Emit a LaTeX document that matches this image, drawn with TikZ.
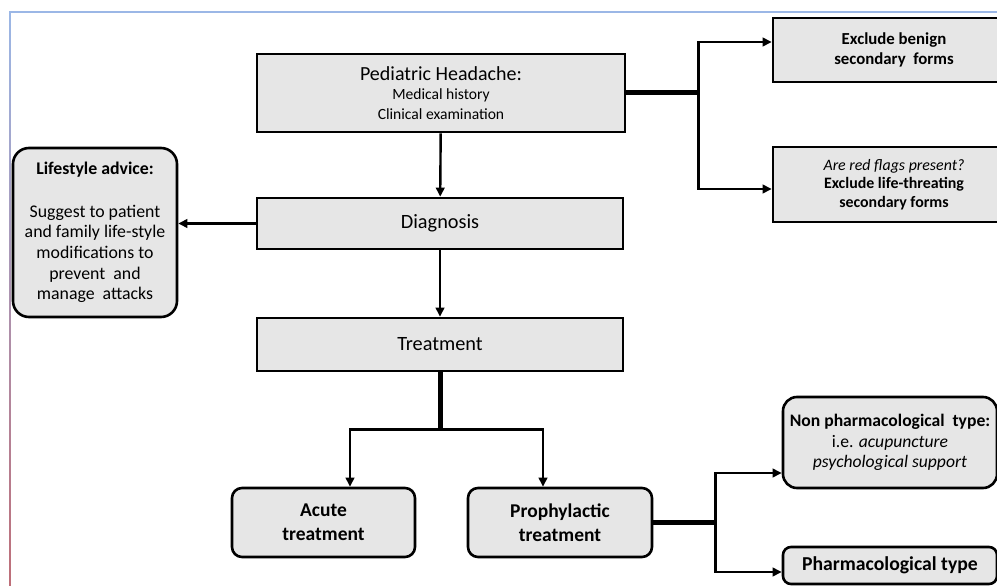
\documentclass[tikz,border=0pt]{standalone}
\usepackage{fontspec}
\setmainfont{Carlito}
\usetikzlibrary{arrows.meta,positioning}
\definecolor{boxgray}{RGB}{230,230,230}
\definecolor{frameblue}{RGB}{155,183,230}
\definecolor{framered}{RGB}{190,110,120}

\begin{document}
\begin{tikzpicture}[x=1pt, y=-1pt,
	>={Triangle[length=9pt,width=8.5pt]},
	flowbox/.style={draw=black, line width=2.6pt, fill=boxgray, align=center, inner sep=2pt},
	roundbox/.style={flowbox, rounded corners=10pt},
	link/.style={line width=2.4pt},
	stem/.style={line width=5pt}]
	\useasboundingbox (0,0) rectangle (997,586);

	% frame of the screenshot
	\draw[frameblue, line width=1.5pt] (10,12) -- (997,12);
	\shade[top color=frameblue, bottom color=framered] (9.2,12) rectangle (10.8,586);

	% main column
	\node[flowbox, minimum width=368pt, minimum height=78pt, font=\fontsize{15.6}{19.5}\selectfont] (head) at (441,93)
		{{\fontsize{20}{22}\selectfont Pediatric Headache:}\\ Medical history\\ Clinical examination};
	\node[flowbox, minimum width=366pt, minimum height=51pt, font=\fontsize{20.3}{24}\selectfont] (diag) at (440,223.5)
		{Diagnosis};
	\node[flowbox, minimum width=366pt, minimum height=53pt, font=\fontsize{20.3}{24}\selectfont] (treat) at (440,344.5)
		{Treatment};

	% secondary forms
	\node[flowbox, minimum width=242pt, minimum height=64pt, font=\bfseries\fontsize{16.8}{20}\selectfont] (benign) at (894,50)
		{Exclude benign\\ secondary\ \ forms};
	\node[flowbox, minimum width=242pt, minimum height=75pt, font=\bfseries\fontsize{15.9}{18.5}\selectfont] (redflag) at (894,184.5)
		{{\mdseries\itshape Are red flags present?}\\ Exclude life-threating\\ secondary forms};

	% lifestyle
	\node[flowbox, rounded corners=16pt, minimum width=164pt, minimum height=169pt, font=\fontsize{17.8}{20.7}\selectfont] (life) at (95,232.5)
		{\textbf{Lifestyle advice:}\\[22pt] Suggest to patient\\ and family life-style\\ modifications to\\ prevent\ \ and\\ manage\ \ attacks};

	% treatments
	\node[roundbox, minimum width=183pt, minimum height=69pt, font=\bfseries\fontsize{19.5}{24}\selectfont] (acute) at (323.5,522.5)
		{Acute\\ treatment};
	\node[roundbox, minimum width=184pt, minimum height=69pt, font=\bfseries\fontsize{19.5}{24}\selectfont] (proph) at (560,522.5)
		{Prophylactic\\ treatment};
	\node[roundbox, rounded corners=14pt, minimum width=214pt, minimum height=91pt, font=\fontsize{17.6}{20.5}\selectfont] (nonph) at (890,442.5)
		{\textbf{Non pharmacological\ \ type:}\\ i.e. \textit{acupuncture}\\ \textit{psychological support}};
	\node[roundbox, rounded corners=8pt, minimum width=214pt, minimum height=37pt, font=\bfseries\fontsize{19.7}{22}\selectfont] (pharm) at (890,565.5)
		{Pharmacological type};

	% connectors
	\draw[link,->] (head) -- (diag);
	\draw[link,->] (diag) -- (treat);
	\draw[link,->] (diag.west) -- (diag.west -| life.east);

	\coordinate (hb) at ([xshift=72pt]head.east);
	\draw[stem] (head.east) -- (hb);
	\foreach \t/\s in {benign/8pt, redflag/-4.5pt}
		\draw[link,->] (hb) |- ([yshift=\s]\t.west);

	\coordinate (tb) at ([yshift=-57pt]treat.south);
	\draw[stem] (treat.south) -- (tb);
	\foreach \t/\s in {acute/26.5pt, proph/-17pt}
		\draw[link,->] (tb) -| ([xshift=\s]\t.north);

	\coordinate (pb) at ([xshift=62pt]proph.east);
	\draw[stem] (proph.east) -- (pb);
	\foreach \t/\s in {nonph/-30.5pt, pharm/-6.5pt}
		\draw[link,->] (pb) |- ([yshift=\s]\t.west);
\end{tikzpicture}
\end{document}
